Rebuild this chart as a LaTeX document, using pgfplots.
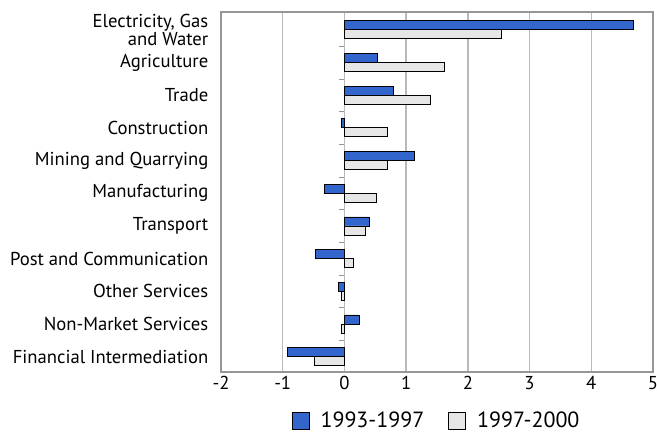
\documentclass[border=0pt]{standalone}
\usepackage{fontspec}
\setmainfont{PT Sans}
\usepackage{pgfplots}
\pgfplotsset{compat=1.18}
\definecolor{barblue}{RGB}{51,102,204}
\definecolor{bargrey}{RGB}{230,230,230}
\definecolor{gridgrey}{RGB}{185,185,185}
\definecolor{framegrey}{RGB}{150,150,150}

\begin{document}
\begin{tikzpicture}
\begin{axis}[
    at={(165.75pt,46.5pt)}, anchor=south west,
    scale only axis,
    width=324pt, height=270pt,
    xbar, bar width=6.75pt,
    xmin=-2, xmax=5, ymin=-0.47, ymax=10.55,
    xtick={-2,...,5},
    ytick={0,...,10},
    yticklabels={Financial Intermediation,Non-Market Services,Other Services,Post and Communication,Transport,Manufacturing,Mining and Quarrying,Construction,Trade,Agriculture,{Electricity, Gas\\and Water}},
    yticklabel style={align=right, font=\fontsize{14}{12}\selectfont},
    xticklabel style={font=\fontsize{14}{16}\selectfont},
    /pgf/number format/assume math mode=true,
    major tick length=0pt,
    y tick label style={xshift=-6pt},
    xmajorgrids, grid style={gridgrey, line width=1pt},
    axis line style={framegrey, line width=0.8pt},
    legend style={at={(0.5,-0.095)}, anchor=north, draw=none, legend columns=2,
        font=\fontsize{16.5}{18}\selectfont,
        /tikz/every even column/.append style={column sep=16pt},
        /tikz/every odd column/.append style={column sep=6pt}},
    legend image code/.code={\draw[#1, draw=black] (0pt,-6.4pt) rectangle (12.8pt,6.4pt);},
]
\addplot[fill=barblue, draw=black, line width=0.7pt, bar shift=3.375pt] coordinates {
    (-0.93,0) (0.24,1) (-0.09,2) (-0.47,3) (0.40,4) (-0.33,5)
    (1.14,6) (-0.05,7) (0.79,8) (0.54,9) (4.69,10)
};
\addlegendentry{1993-1997}
\addplot[fill=bargrey, draw=black, line width=0.7pt, bar shift=-3.375pt] coordinates {
    (-0.48,0) (-0.04,1) (-0.04,2) (0.14,3) (0.34,4) (0.52,5)
    (0.70,6) (0.70,7) (1.40,8) (1.62,9) (2.54,10)
};
\addlegendentry{1997-2000}
\foreach \k in {0,...,9} {
    \edef\temp{\noexpand\draw[framegrey, line width=0.6pt] (axis cs:0,\k+0.5) -- (axis cs:-0.09,\k+0.5);}
    \temp
}
\end{axis}
\pgfresetboundingbox
\path (0pt,0pt) rectangle (492.75pt,325.5pt);
\end{tikzpicture}
\end{document}
